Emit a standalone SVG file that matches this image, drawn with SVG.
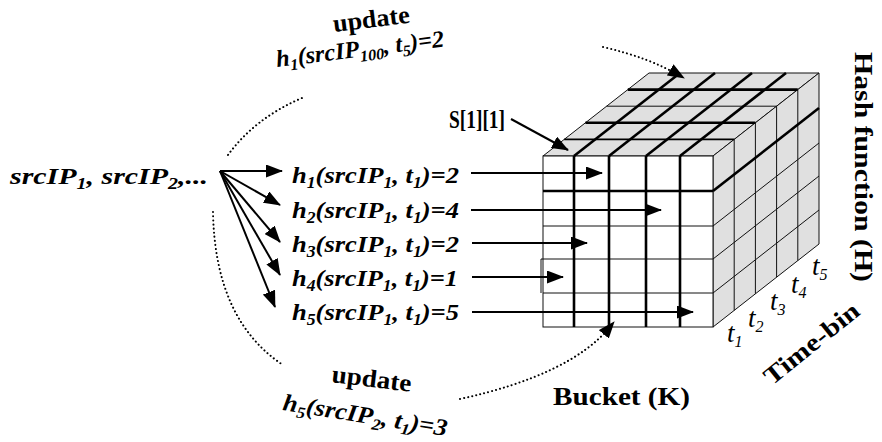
<svg xmlns="http://www.w3.org/2000/svg" width="882" height="442" viewBox="0 0 882 442">
<style>
.f{font-family:"Liberation Serif","Times New Roman",serif;font-weight:bold;font-style:italic;font-size:24px;fill:#000}
.b{font-family:"Liberation Serif","Times New Roman",serif;font-weight:bold;font-size:25px;fill:#000}
.ti{font-family:"Liberation Serif","Times New Roman",serif;font-style:italic;font-size:27px;fill:#000}
.s{font-size:16px}
.thin{stroke:#111;stroke-width:1;fill:none}
.thick{stroke:#000;stroke-width:2.6;fill:none}
.mid{stroke:#000;stroke-width:1.8;fill:none}
.arr{stroke:#000;stroke-width:2;fill:none;marker-end:url(#ah)}
.dot{stroke:#000;stroke-width:2;fill:none;stroke-dasharray:0.1 4;stroke-linecap:round}
.face{fill:#e0e0e0;stroke:#111;stroke-width:1}
</style>
<defs>
<marker id="ah" viewBox="0 0 17 13" refX="16" refY="6.5" markerWidth="17" markerHeight="13" markerUnits="userSpaceOnUse" orient="auto">
<path d="M0,0 L17,6.5 L0,13 z" fill="#000"/>
</marker>
</defs>
<rect width="882" height="442" fill="#fff"/>

<g id="cube">
<polygon class="face" points="543,156 713,156 819,73 649,73"/>
<polygon class="face" points="713,156 819,73 819,244 713,327"/>
<rect x="543" y="156" width="170" height="171" fill="#fff" stroke="#111" stroke-width="1"/>
<line class="mid" x1="564.2" y1="139.4" x2="734.2" y2="139.4"/>
<line class="thick" x1="585.4" y1="122.8" x2="755.4" y2="122.8"/>
<line class="thin" x1="606.6" y1="106.2" x2="776.6" y2="106.2"/>
<line class="thick" x1="627.8" y1="89.6" x2="797.8" y2="89.6"/>
<line class="thick" x1="574" y1="156" x2="680" y2="73"/>
<line class="thick" x1="609" y1="156" x2="715" y2="73"/>
<line class="thick" x1="646" y1="156" x2="752" y2="73"/>
<line class="thick" x1="680" y1="156" x2="786" y2="73"/>
<line class="thin" x1="734.2" y1="139.4" x2="734.2" y2="310.4"/>
<line class="thin" x1="755.4" y1="122.8" x2="755.4" y2="293.8"/>
<line class="thin" x1="776.6" y1="106.2" x2="776.6" y2="277.2"/>
<line class="thin" x1="797.8" y1="89.6" x2="797.8" y2="260.6"/>
<line class="thick" x1="713" y1="191" x2="819" y2="108"/>
<line class="thin" x1="713" y1="226" x2="819" y2="143"/>
<line class="thin" x1="713" y1="259" x2="819" y2="176"/>
<line class="thin" x1="713" y1="293" x2="819" y2="210"/>
<line class="thick" x1="543" y1="191" x2="713" y2="191"/>
<line class="thin" x1="543" y1="226" x2="713" y2="226"/>
<line class="thin" x1="541" y1="259" x2="713" y2="259"/>
<line class="thin" x1="543" y1="293" x2="713" y2="293"/>
<line class="thin" x1="541" y1="259" x2="541" y2="293"/>
<line class="thick" x1="574" y1="156" x2="574" y2="327"/>
<line class="thick" x1="609" y1="156" x2="609" y2="327"/>
<line class="thick" x1="646" y1="156" x2="646" y2="327"/>
<line class="thick" x1="680" y1="156" x2="680" y2="327"/>
</g>

<g id="connectors">
<line class="arr" x1="220" y1="171" x2="282" y2="171"/>
<line class="arr" x1="220" y1="171" x2="280" y2="205"/>
<line class="arr" x1="220" y1="171" x2="280" y2="242"/>
<line class="arr" x1="220" y1="171" x2="280" y2="275"/>
<line class="arr" x1="220" y1="171" x2="275" y2="307"/>
<line class="arr" x1="471" y1="173" x2="602" y2="173"/>
<line class="arr" x1="471" y1="210" x2="661" y2="210"/>
<line class="arr" x1="472" y1="243" x2="587" y2="243"/>
<line class="arr" x1="472" y1="277" x2="563" y2="277"/>
<line class="arr" x1="472" y1="312" x2="693" y2="312"/>
<line class="arr" x1="511" y1="119" x2="568" y2="150"/>
<path class="dot" d="M228,155 Q255,118 302,98"/>
<path class="dot" d="M213,212 Q215,320 283,365"/>
<path class="dot" d="M460,399 Q570,375 610,327"/>
<path d="M460,399 Q570,375 614,322" fill="none" stroke="none" marker-end="url(#ah)"/>
<path class="dot" d="M603,47 Q650,58 678,75"/>
<path d="M603,47 Q650,58 684,78" fill="none" stroke="none" marker-end="url(#ah)"/>
</g>

<g id="source">
<text class="f" x="10" y="184" font-size="27" textLength="198" lengthAdjust="spacingAndGlyphs">srcIP<tspan class="s" dy="5">1</tspan><tspan dy="-5">, srcIP</tspan><tspan class="s" dy="5">2</tspan><tspan dy="-5">,...</tspan></text>
</g>

<g id="hashes">
<text class="f" x="292" y="183" textLength="167" lengthAdjust="spacingAndGlyphs">h<tspan class="s" dy="5">1</tspan><tspan dy="-5">(srcIP</tspan><tspan class="s" dy="5">1</tspan><tspan dy="-5">, t</tspan><tspan class="s" dy="5">1</tspan><tspan dy="-5">)=2</tspan></text>
<text class="f" x="292" y="218" textLength="167" lengthAdjust="spacingAndGlyphs">h<tspan class="s" dy="5">2</tspan><tspan dy="-5">(srcIP</tspan><tspan class="s" dy="5">1</tspan><tspan dy="-5">, t</tspan><tspan class="s" dy="5">1</tspan><tspan dy="-5">)=4</tspan></text>
<text class="f" x="292" y="252" textLength="167" lengthAdjust="spacingAndGlyphs">h<tspan class="s" dy="5">3</tspan><tspan dy="-5">(srcIP</tspan><tspan class="s" dy="5">1</tspan><tspan dy="-5">, t</tspan><tspan class="s" dy="5">1</tspan><tspan dy="-5">)=2</tspan></text>
<text class="f" x="292" y="286" textLength="166" lengthAdjust="spacingAndGlyphs">h<tspan class="s" dy="5">4</tspan><tspan dy="-5">(srcIP</tspan><tspan class="s" dy="5">1</tspan><tspan dy="-5">, t</tspan><tspan class="s" dy="5">1</tspan><tspan dy="-5">)=1</tspan></text>
<text class="f" x="292" y="320" textLength="167" lengthAdjust="spacingAndGlyphs">h<tspan class="s" dy="5">5</tspan><tspan dy="-5">(srcIP</tspan><tspan class="s" dy="5">1</tspan><tspan dy="-5">, t</tspan><tspan class="s" dy="5">1</tspan><tspan dy="-5">)=5</tspan></text>
</g>

<g id="update-top">
<text class="b" transform="translate(334,32) rotate(-7)" x="0" y="0" textLength="77" lengthAdjust="spacingAndGlyphs">update</text>
<text class="f" transform="translate(277,67) rotate(-7)" x="0" y="0" textLength="169" lengthAdjust="spacingAndGlyphs">h<tspan class="s" dy="5">1</tspan><tspan dy="-5">(srcIP</tspan><tspan class="s" dy="5">100</tspan><tspan dy="-5">, t</tspan><tspan class="s" dy="5">5</tspan><tspan dy="-5">)=2</tspan></text>
</g>

<g id="update-bottom">
<text class="b" transform="translate(331,382) rotate(7)" x="0" y="0" textLength="80" lengthAdjust="spacingAndGlyphs">update</text>
<text class="f" transform="translate(282,410) rotate(9)" x="0" y="0" textLength="166" lengthAdjust="spacingAndGlyphs">h<tspan class="s" dy="5">5</tspan><tspan dy="-5">(srcIP</tspan><tspan class="s" dy="5">2</tspan><tspan dy="-5">, t</tspan><tspan class="s" dy="5">1</tspan><tspan dy="-5">)=3</tspan></text>
</g>

<g id="s11">
<text class="b" x="449" y="128" font-size="20" textLength="56" lengthAdjust="spacingAndGlyphs">S[1][1]</text>
</g>

<g id="axes">
<text class="b" x="553" y="405" font-size="27" textLength="137" lengthAdjust="spacingAndGlyphs">Bucket (K)</text>
<text class="b" transform="translate(855,52) rotate(90)" x="0" y="0" font-size="28" textLength="230" lengthAdjust="spacingAndGlyphs">Hash function (H)</text>
<text class="b" transform="translate(772,386) rotate(-39)" x="0" y="0" font-size="27" textLength="115" lengthAdjust="spacingAndGlyphs">Time-bin</text>
</g>

<g id="timebins">
<text class="ti" x="727" y="342">t<tspan class="s" dy="5">1</tspan></text>
<text class="ti" x="748" y="327">t<tspan class="s" dy="5">2</tspan></text>
<text class="ti" x="770" y="310">t<tspan class="s" dy="5">3</tspan></text>
<text class="ti" x="791" y="293">t<tspan class="s" dy="5">4</tspan></text>
<text class="ti" x="812" y="275">t<tspan class="s" dy="5">5</tspan></text>
</g>
</svg>
